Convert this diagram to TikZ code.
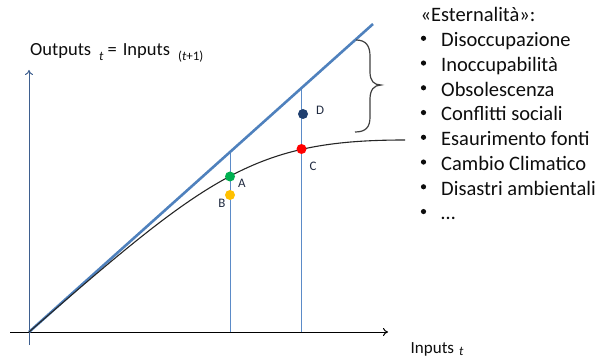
\documentclass[tikz,border=0pt]{standalone}
\usepackage{fontspec}
\setmainfont{Carlito}
\usetikzlibrary{arrows.meta}
\definecolor{diagblue}{HTML}{4F81BD}
\definecolor{vblue}{HTML}{5B8BC8}
\definecolor{axisblue}{HTML}{3E5F8F}
\definecolor{dgreen}{HTML}{00B050}
\definecolor{dyellow}{HTML}{FFC000}
\definecolor{dred}{HTML}{FF0000}
\definecolor{dnavy}{HTML}{1F3F6F}
\definecolor{txt}{HTML}{0D0D0D}
\definecolor{lbl}{HTML}{1F2A40}
\tikzset{
  dot/.style={circle,inner sep=0pt,minimum size=10pt,fill=#1},
  ptlabel/.style={font=\fontsize{13}{15}\selectfont,text=lbl,inner sep=0pt},
  listitem/.style={anchor=base west,inner sep=0pt,font=\fontsize{20.5}{24}\selectfont,text=txt},
  axislabel/.style={anchor=base west,inner sep=0pt,font=\fontsize{18.5}{22}\selectfont,text=txt},
  vline/.style={vblue,line width=1pt},
  bulletdot/.style={circle,inner sep=0pt,minimum size=5.2pt,fill=txt}
}
\newcommand{\subsc}[2]{\raisebox{#1}{\fontsize{13}{14}\selectfont #2}}
\begin{document}
\begin{tikzpicture}[x=1pt,y=-1pt]
\useasboundingbox (0,0) rectangle (608,358);
% coordinates
\coordinate (O) at (29,332);
\coordinate (Xstart) at (10,332);
\coordinate (Xend) at (388,332);
\coordinate (Ybot) at (29,345);
\coordinate (Yend) at (29,70);
\coordinate (Dtop) at (373,24);
\coordinate (Aax) at (230,332);
\coordinate (Adiag) at (230,152);
\coordinate (Cax) at (301,332);
\coordinate (Cdiag) at (301,88.5);
\coordinate (Cend) at (405,140);
% axes
\draw[black,line width=1pt,-{To[length=5pt,width=8pt]}] (Xstart) -- (Xend);
\draw[axisblue,line width=1pt,-{To[length=5pt,width=8pt]}] (Ybot) -- (Yend);
% vertical lines
\draw[vline] (Aax) -- (Adiag);
\draw[vline] (Cax) -- (Cdiag);
% diagonal
\draw[diagblue,line width=2.6pt] (O) -- (Dtop);
% curve
\draw[black!85,line width=1.1pt] (O) .. controls (209,175) and (255,140) .. (Cend);
% dots
\node[dot=dgreen] (A) at (230,176.5) {};
\node[dot=dyellow] (B) at (230,195) {};
\node[dot=dred] (C) at (301.5,149) {};
\node[dot=dnavy] (D) at (303,114) {};
\node[ptlabel] (Al) at (242,183) {A};
\node[ptlabel] (Bl) at (222,203) {B};
\node[ptlabel] (Cl) at (313,166) {C};
\node[ptlabel] (Dl) at (320,110) {D};
% brace
\draw[black!75,line width=1.2pt] (356,40) .. controls (366,40) and (370,46) .. (370,56) -- (370,72) .. controls (370,81) and (374,85) .. (381,85)
  .. controls (374,85) and (370,90) .. (370,99) -- (370,117) .. controls (370,127) and (366,132) .. (355,132);
% axis labels
\node[axislabel] (ylab) at (30,56) {Outputs\hspace{8pt}\subsc{-4.5pt}{\itshape t}\hspace{4pt}=\hspace{6pt}Inputs\hspace{8pt}\subsc{-4.5pt}{(\textit{t}+1)}};
\node[axislabel,font=\fontsize{17}{20}\selectfont] (xlab) at (410.5,353.3) {Inputs\hspace{5pt}\subsc{-2.5pt}{\itshape t}};
% list
\node[listitem] (head) at (420.5,21.7) {«Esternalità»:};
\foreach \y/\t [count=\i] in {46.7/{Disoccupazione},71.45/{Inoccupabilità},96.2/{Obsolescenza},120.95/{Conflitti sociali},145.7/{Esaurimento fonti},170.45/{Cambio Climatico},195.2/{Disastri ambientali},219.95/{…}}{
  \node[bulletdot] (b\i) at (423.5,\y-8.4) {};
  \node[listitem] (it\i) at (441,\y) {\t};
}
\end{tikzpicture}
\end{document}
